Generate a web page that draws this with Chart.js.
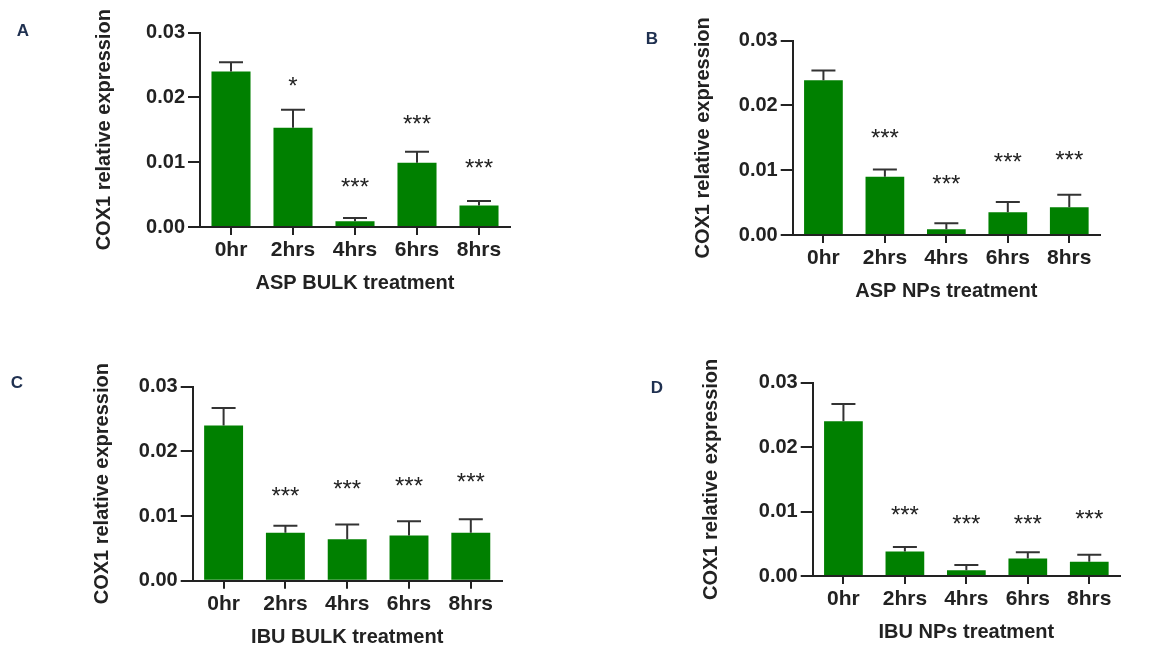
<!DOCTYPE html>
<html>
<head>
<meta charset="utf-8">
<script src="https://cdn.jsdelivr.net/npm/chart.js@4/dist/chart.umd.min.js"></script>
<style>
  html, body { margin: 0; padding: 0; background: #fff; overflow: hidden; }
  #page { position: relative; width: 1163px; height: 650px; }
  .panel { position: absolute; }
  .letter { position: absolute; font: bold 17px Arial, "Liberation Sans", sans-serif; color: #1f3050;
            transform: translate(-50%, -50%); }
</style>
</head>
<body>
<div id="page">
  <canvas class="panel" id="pA" width="580" height="325" style="left:0;top:0"></canvas>
  <canvas class="panel" id="pB" width="583" height="325" style="left:580px;top:0"></canvas>
  <canvas class="panel" id="pC" width="580" height="325" style="left:0;top:325px"></canvas>
  <canvas class="panel" id="pD" width="583" height="325" style="left:580px;top:325px"></canvas>
  <div class="letter" style="left:23px;top:31px">A</div>
  <div class="letter" style="left:652px;top:39px">B</div>
  <div class="letter" style="left:17px;top:383px">C</div>
  <div class="letter" style="left:657px;top:388px">D</div>
</div>
<script>
// COX1 relative expression, mean + upper SEM per time point
const categories = ['0hr', '2hrs', '4hrs', '6hrs', '8hrs'];
const yTicks = [0, 0.01, 0.02, 0.03];

const aspBulkMean = [0.0240, 0.0153, 0.0009, 0.0099, 0.0033];
const aspBulkSem  = [0.0014, 0.0028, 0.0005, 0.0017, 0.0007];
const aspBulkSig  = ['', '*', '***', '***', '***'];
const aspBulkSigY = [null, 0.0227, 0.0070, 0.0168, 0.0099];

const aspNpMean = [0.0239, 0.0090, 0.0009, 0.0035, 0.0043];
const aspNpSem  = [0.0015, 0.0011, 0.0009, 0.0016, 0.0019];
const aspNpSig  = ['', '***', '***', '***', '***'];
const aspNpSigY = [null, 0.0158, 0.0088, 0.0121, 0.0124];

const ibuBulkMean = [0.0240, 0.0074, 0.0064, 0.0070, 0.0074];
const ibuBulkSem  = [0.0027, 0.0011, 0.0023, 0.0022, 0.0021];
const ibuBulkSig  = ['', '***', '***', '***', '***'];
const ibuBulkSigY = [null, 0.0139, 0.0150, 0.0156, 0.0161];

const ibuNpMean = [0.0240, 0.0038, 0.0009, 0.0027, 0.0022];
const ibuNpSem  = [0.0027, 0.0007, 0.0008, 0.0010, 0.0011];
const ibuNpSig  = ['', '***', '***', '***', '***'];
const ibuNpSigY = [null, 0.0104, 0.0090, 0.0090, 0.0097];

const yTitle = 'COX1 relative expression';

(function () {
  const FONT = 'Arial, "Liberation Sans", sans-serif';
  const INK = '#222';
  const BAR = '#008000';

  // page-space geometry of every panel: box, plot area, title centres
  const panels = [
    { id: 'pA', box: [0, 0, 580, 325],     plot: [200, 32.5, 510, 227],     yTitleX: 104,   xTitleY: 283,
      xTitle: 'ASP BULK treatment', mean: aspBulkMean, sem: aspBulkSem, sig: aspBulkSig, sigY: aspBulkSigY },
    { id: 'pB', box: [580, 0, 583, 325],   plot: [792.7, 40.7, 1100, 235],  yTitleX: 703,   xTitleY: 291,
      xTitle: 'ASP NPs treatment', mean: aspNpMean, sem: aspNpSem, sig: aspNpSig, sigY: aspNpSigY },
    { id: 'pC', box: [0, 325, 580, 325],   plot: [192.7, 386.7, 501.7, 580.7], yTitleX: 102.7, xTitleY: 637,
      xTitle: 'IBU BULK treatment', mean: ibuBulkMean, sem: ibuBulkSem, sig: ibuBulkSig, sigY: ibuBulkSigY },
    { id: 'pD', box: [580, 325, 583, 325], plot: [812.7, 382.7, 1120, 576], yTitleX: 711.7, xTitleY: 632,
      xTitle: 'IBU NPs treatment', mean: ibuNpMean, sem: ibuNpSem, sig: ibuNpSig, sigY: ibuNpSigY }
  ];

  const TITLE_OFF = 12; // half line height of a 20px title, padding 0

  const errorBars = {
    id: 'errorBars',
    afterDatasetsDraw(chart) {
      const { ctx, scales: { x, y } } = chart;
      const p = chart.options.plugins.errorBars;
      ctx.save();
      ctx.strokeStyle = '#333';
      ctx.lineWidth = 2;
      p.mean.forEach((m, i) => {
        const cx = x.getPixelForValue(i);
        const yTop = y.getPixelForValue(m + p.sem[i]);
        const yBar = y.getPixelForValue(m);
        ctx.beginPath();
        ctx.moveTo(cx, yBar);
        ctx.lineTo(cx, yTop);
        ctx.moveTo(cx - 12, yTop);
        ctx.lineTo(cx + 12, yTop);
        ctx.stroke();
      });
      ctx.fillStyle = INK;
      ctx.font = '24px ' + FONT;
      ctx.textAlign = 'center';
      ctx.textBaseline = 'alphabetic';
      p.sig.forEach((s, i) => {
        if (!s || p.sigY[i] == null) return;
        ctx.fillText(s, x.getPixelForValue(i), y.getPixelForValue(p.sigY[i]) + 0.57 * 24);
      });
      ctx.restore();
    }
  };

  panels.forEach(P => {
    const [x0, y0, w, h] = P.box;
    const [pl, pt, pr, pb] = P.plot;
    const yLeft = P.yTitleX - TITLE_OFF;
    const yWidth = pl - yLeft;
    const xHeight = P.xTitleY + TITLE_OFF - pb;
    const padding = { left: yLeft - x0, top: pt - y0, right: x0 + w - pr, bottom: y0 + h - pb - xHeight };

    new Chart(document.getElementById(P.id).getContext('2d'), {
      type: 'bar',
      data: {
        labels: categories,
        datasets: [{ data: P.mean, backgroundColor: BAR, borderWidth: 0,
                     barPercentage: 0.63, categoryPercentage: 1 }]
      },
      options: {
        responsive: false, animation: false, events: [],
        layout: { padding },
        plugins: { legend: { display: false }, tooltip: { enabled: false },
                   errorBars: { mean: P.mean, sem: P.sem, sig: P.sig, sigY: P.sigY } },
        scales: {
          x: {
            offset: true,
            grid: { offset: false, drawOnChartArea: false, drawTicks: true, tickLength: 8, color: INK, lineWidth: 2 },
            border: { display: true, color: INK, width: 2 },
            ticks: { color: INK, font: { family: FONT, size: 21, weight: 'bold' }, padding: 3, maxRotation: 0 },
            title: { display: true, text: P.xTitle, color: INK, padding: 0,
                     font: { family: FONT, size: 20, weight: 'bold', lineHeight: 1.2 } },
            afterFit: s => { s.height = xHeight; }
          },
          y: {
            min: 0, max: 0.03,
            afterBuildTicks: s => { s.ticks = yTicks.map(v => ({ value: v })); },
            grid: { drawOnChartArea: false, drawTicks: true, tickLength: 12, color: INK, lineWidth: 2 },
            border: { display: true, color: INK, width: 2 },
            ticks: { color: INK, font: { family: FONT, size: 20, weight: 'bold' }, padding: 3,
                     callback: v => Number(v).toFixed(2) },
            title: { display: true, text: yTitle, color: INK, padding: 0,
                     font: { family: FONT, size: 20, weight: 'bold', lineHeight: 1.2 } },
            afterFit: s => { s.width = yWidth; }
          }
        }
      },
      plugins: [errorBars]
    });
  });
})();
</script>
</body>
</html>
